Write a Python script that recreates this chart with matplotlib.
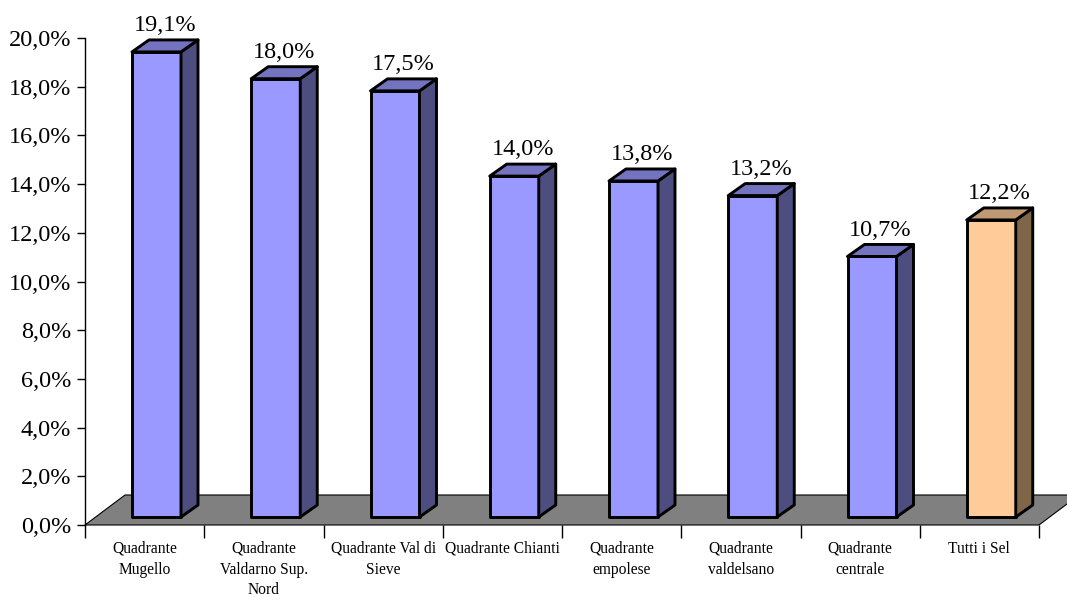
import matplotlib
matplotlib.use("Agg")
import matplotlib.pyplot as plt

# data
categories = [
    "Quadrante\nMugello",
    "Quadrante\nValdarno Sup.\nNord",
    "Quadrante Val di\nSieve",
    "Quadrante Chianti",
    "Quadrante\nempolese",
    "Quadrante\nvaldelsano",
    "Quadrante\ncentrale",
    "Tutti i Sel",
]
values = [19.1, 18.0, 17.5, 14.0, 13.8, 13.2, 10.7, 12.2]
value_labels = ["19,1%", "18,0%", "17,5%", "14,0%", "13,8%", "13,2%", "10,7%", "12,2%"]
y_ticks = [0, 2, 4, 6, 8, 10, 12, 14, 16, 18, 20]
y_tick_labels = ["0,0%", "2,0%", "4,0%", "6,0%", "8,0%", "10,0%",
                 "12,0%", "14,0%", "16,0%", "18,0%", "20,0%"]

# face colours: front, side, top
blue_faces = ("#9999FF", "#4D4D80", "#7373BF")
orange_faces = ("#FFCC99", "#806648", "#BF9973")
floor_color = "#808080"

plt.rcParams["font.family"] = ["Liberation Serif", "DejaVu Serif"]

W, H = 1067, 597
fig = plt.figure(figsize=(W / 100, H / 100), dpi=100)
ax = fig.add_axes([85 / W, (H - 525) / H, (1039 - 85) / W, (525 - 38) / H])
ax.set_xlim(0, len(categories))
ax.set_ylim(0, 20)

# 3d offsets in data units
px_x = (1039 - 85) / len(categories)   # pixels per category
px_y = (525 - 38) / 20.0               # pixels per percent
floor_dx, floor_dy = 40 / px_x, 30 / px_y
bar_dx, bar_dy = 17 / px_x, 12 / px_y
bar_left, bar_w = 47 / px_x, 49 / px_x
bar_base = 8 / px_y

# floor
n = len(categories)
ax.fill([0, n, n + floor_dx, floor_dx], [0, 0, floor_dy, floor_dy],
        facecolor=floor_color, edgecolor="black", linewidth=0.8,
        clip_on=False, zorder=1)

for i, v in enumerate(values):
    front, side, top = orange_faces if i == n - 1 else blue_faces
    x0 = i + bar_left
    x1 = x0 + bar_w
    y0 = bar_base
    y1 = bar_base + v
    kw = dict(edgecolor="black", linewidth=2.1, joinstyle="round",
              clip_on=False, zorder=3)
    ax.fill([x0, x1, x1, x0], [y0, y0, y1, y1], facecolor=front, **kw)
    ax.fill([x1, x1 + bar_dx, x1 + bar_dx, x1],
            [y0, y0 + bar_dy, y1 + bar_dy, y1], facecolor=side, **kw)
    ax.fill([x0, x1, x1 + bar_dx, x0 + bar_dx],
            [y1, y1, y1 + bar_dy, y1 + bar_dy], facecolor=top, **kw)
    ax.text((x0 + x1 + bar_dx) / 2, y1 + bar_dy + 0.15, value_labels[i],
            ha="center", va="bottom", fontsize=17.5, clip_on=False, zorder=4)

# axes styling
for s in ("top", "right", "bottom"):
    ax.spines[s].set_visible(False)
ax.spines["left"].set_linewidth(1)
ax.set_yticks(y_ticks)
ax.set_yticklabels(y_tick_labels, fontsize=17.5)
ax.tick_params(axis="y", length=6, width=1, pad=4)

ax.set_xticks(range(n + 1))
ax.set_xticklabels([])
ax.tick_params(axis="x", length=9, width=1)
for i, lab in enumerate(categories):
    ax.text(i + 0.5, -0.65, lab, ha="center", va="top", fontsize=11.2,
            linespacing=1.4, clip_on=False)

fig.savefig("out.png", dpi=100)
